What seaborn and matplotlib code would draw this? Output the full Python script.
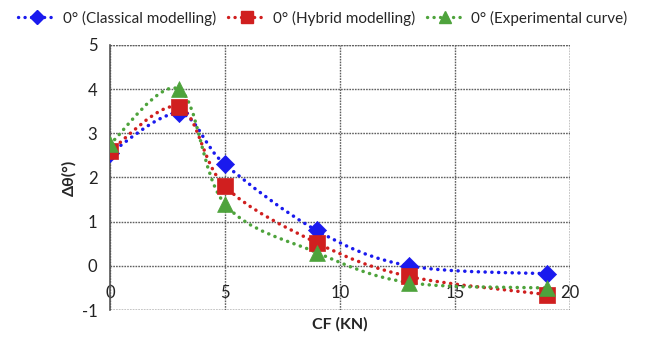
import numpy as np
import pandas as pd
import matplotlib
matplotlib.use("Agg")
import matplotlib.pyplot as plt
from matplotlib.path import Path
from matplotlib.patches import PathPatch
from matplotlib.lines import Line2D
import seaborn as sns

# ---- data ----
cf = [0, 3, 5, 9, 13, 19]
classical = [2.55, 3.45, 2.3, 0.8, 0.0, -0.18]
hybrid = [2.6, 3.6, 1.8, 0.52, -0.24, -0.65]
experimental = [2.75, 4.0, 1.4, 0.3, -0.38, -0.5]
series_names = ["0° (Classical modelling)", "0° (Hybrid modelling)", "0° (Experimental curve)"]
x_ticks = [0, 5, 10, 15, 20]
y_ticks = [-1, 0, 1, 2, 3, 4, 5]

colors = ["#1a1aee", "#d01f1f", "#4ea33c"]
markers = ["D", "s", "^"]
msizes = [85, 130, 130]

sns.set_style("white")
plt.rcParams['font.family'] = ['Lato', 'DejaVu Sans']

df = pd.DataFrame({
    "CF": cf * 3,
    "val": classical + hybrid + experimental,
    "series": sum([[n] * len(cf) for n in series_names], []),
})

fig = plt.figure(figsize=(6.46, 3.39), dpi=100)
ax = fig.add_axes([0.170, 0.0855, 0.712, 0.782])


def smooth_path(xs, ys):
    pts = np.column_stack([xs, ys]).astype(float)
    verts = [pts[0]]
    codes = [Path.MOVETO]
    n = len(pts)
    for i in range(n - 1):
        p0 = pts[i - 1] if i > 0 else pts[i]
        p1 = pts[i]
        p2 = pts[i + 1]
        p3 = pts[i + 2] if i + 2 < n else pts[i + 1]
        c1 = p1 + (p2 - p0) / 6.0
        c2 = p2 - (p3 - p1) / 6.0
        verts += [c1, c2, p2]
        codes += [Path.CURVE4] * 3
    return Path(verts, codes)


dot_style = (0, (0.05, 1.9))
for name, vals, col in zip(series_names, [classical, hybrid, experimental], colors):
    patch = PathPatch(smooth_path(cf, vals), facecolor="none", edgecolor=col,
                      linewidth=2.5, linestyle=dot_style, capstyle="round",
                      transform=ax.transData, zorder=3)
    ax.add_patch(patch)

for name, col, m, s in zip(series_names, colors, markers, msizes):
    sub = df[df["series"] == name]
    sns.scatterplot(data=sub, x="CF", y="val", color=col, marker=m, s=s,
                    edgecolor=col, linewidth=0.5, ax=ax, zorder=4, legend=False)

ax.set_xlim(0, 20)
ax.set_ylim(-1, 5)
ax.set_xticks(x_ticks)
ax.set_yticks(y_ticks)
ax.set_xticklabels([str(t) for t in x_ticks])
ax.set_yticklabels([str(t) for t in y_ticks])

grid_kw = dict(color="#606060", linewidth=1.0, linestyle=(0, (1.2, 0.8)))
ax.grid(True, **grid_kw)
ax.set_axisbelow(True)

for sp in ["top", "right"]:
    ax.spines[sp].set_visible(False)
ax.spines["left"].set_color("#555555")
ax.spines["left"].set_linewidth(1.2)
ax.spines["bottom"].set_position(("data", 0))
ax.spines["bottom"].set_color("none")
ax.axhline(-1, **grid_kw)
ax.axhline(5, **grid_kw)
ax.axvline(20, **grid_kw)

ax.tick_params(axis="y", length=5, width=1, color="#555555", labelsize=12,
               pad=4, labelcolor="#222222")
ax.tick_params(axis="x", length=0, labelsize=12, pad=14, labelcolor="#222222")

ax.set_xlabel("CF (KN)", fontsize=11.5, fontweight="bold", labelpad=0)
ax.xaxis.label.set_va("center")
ax.xaxis.set_label_coords(0.5, -0.055)
ax.set_ylabel("Δθ(°)", fontsize=11.5, fontweight="bold", labelpad=4)

handles = [Line2D([0], [0], color=c, linewidth=2.4, linestyle=dot_style,
                  dash_capstyle="round", marker=m, markersize=ms, markerfacecolor=c,
                  markeredgecolor=c)
           for c, m, ms in zip(colors, markers, [7, 9, 9])]
fig.legend(handles, series_names, loc="upper center", bbox_to_anchor=(0.5, 1.0),
           ncol=3, frameon=False, fontsize=11, handlelength=2.4, handletextpad=0.5,
           columnspacing=0.8, borderaxespad=0.3)

fig.savefig("out.png", dpi=100)
